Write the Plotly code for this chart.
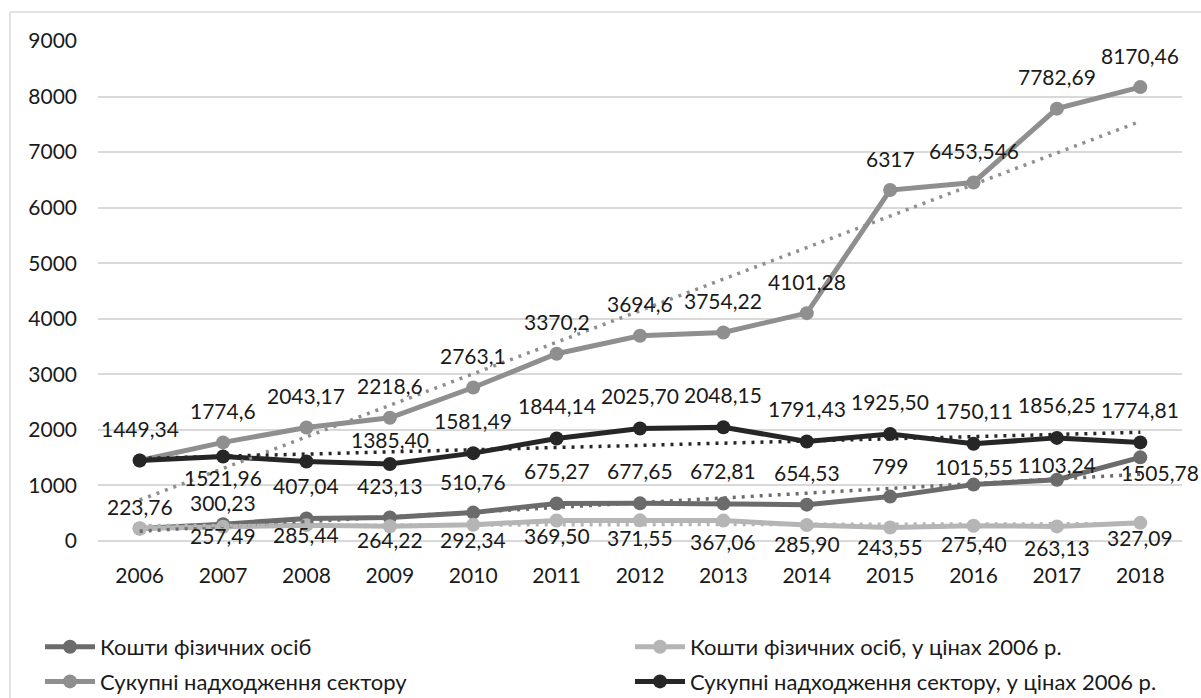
import numpy as np
import plotly.graph_objects as go

# Years on the category axis
years = [2006, 2007, 2008, 2009, 2010, 2011, 2012, 2013, 2014, 2015, 2016, 2017, 2018]

# Кошти фізичних осіб
private_funds = [223.76, 300.23, 407.04, 423.13, 510.76, 675.27, 677.65, 672.81,
                 654.53, 799, 1015.55, 1103.24, 1505.78]
# Кошти фізичних осіб, у цінах 2006 р.
private_funds_2006 = [223.76, 257.49, 285.44, 264.22, 292.34, 369.50, 371.55, 367.06,
                      285.90, 243.55, 275.40, 263.13, 327.09]
# Сукупні надходження сектору
sector_total = [1449.34, 1774.6, 2043.17, 2218.6, 2763.1, 3370.2, 3694.6, 3754.22,
                4101.28, 6317, 6453.546, 7782.69, 8170.46]
# Сукупні надходження сектору, у цінах 2006 р.
sector_total_2006 = [1449.34, 1521.96, 1430, 1385.40, 1581.49, 1844.14, 2025.70, 2048.15,
                     1791.43, 1925.50, 1750.11, 1856.25, 1774.81]

names = [
    "Кошти фізичних осіб",
    "Кошти фізичних осіб, у цінах 2006 р.",
    "Сукупні надходження сектору",
    "Сукупні надходження сектору, у цінах 2006 р.",
]

FONT = "Lato, 'Noto Sans', sans-serif"
TEXT = "#1a1a1a"


def fmt_fixed(v):
    return str(v) if isinstance(v, int) else f"{v:.2f}".replace(".", ",")


def fmt_plain(v):
    return str(v).replace(".", ",")


# label vertical offsets in px (positive = above point); None = no label
series = [
    dict(y=private_funds, color="#6b6b6b", fmt=fmt_fixed, legend="legend",
         off=[22, 22, 33, 32, 31, 33, 33, 33, 32, 31, 18, 15, -15],
         xoff=[0] * 12 + [20]),
    dict(y=private_funds_2006, color="#b5b5b5", fmt=fmt_fixed, legend="legend2",
         off=[None, -9, -9, -13, -15, -15, -17, -21, -18, -19, -18, -21, -15],
         xoff=[0] * 13),
    dict(y=sector_total, color="#8f8f8f", fmt=fmt_plain, legend="legend",
         off=[32] * 13, xoff=[0] * 13),
    dict(y=sector_total_2006, color="#262626", fmt=fmt_fixed, legend="legend2",
         off=[None, -21, None, 25, 33, 33, 33, 33, 33, 33, 33, 33, 33],
         xoff=[0] * 13),
]

fig = go.Figure()

for i, (name, s) in enumerate(zip(names, series)):
    fig.add_trace(go.Scatter(
        x=years, y=s["y"], name=name, mode="lines+markers",
        line=dict(color=s["color"], width=5),
        marker=dict(color=s["color"], size=14, symbol="circle"),
        legend=s["legend"], legendgroup=f"g{i}",
        hoverinfo="skip",
    ))

# linear trend lines
xs = np.array(years, dtype=float)
for s in series:
    k, b = np.polyfit(xs, np.array(s["y"], dtype=float), 1)
    fig.add_trace(go.Scatter(
        x=years, y=k * xs + b, mode="lines", showlegend=False, hoverinfo="skip",
        line=dict(color=s["color"], width=3.5, dash="3px,6px"),
    ))

annotations = []
for s in series:
    for x, v, o, dx in zip(years, s["y"], s["off"], s["xoff"]):
        if o is None:
            continue
        annotations.append(dict(
            x=x, y=v, text=s["fmt"](v), showarrow=False,
            yshift=o, xshift=dx, font=dict(family=FONT, size=21, color=TEXT),
        ))

W, H = 1201, 698
L, R, T, B = 98, 19, 41, 157
pw, ph = W - L - R, H - T - B


def px_x(p):
    return (p - L) / pw


def px_y(p):
    return (H - B - p) / ph


border = dict(color="#d9d9d9", width=1.5)
shapes = [
    dict(type="line", xref="paper", yref="paper", x0=px_x(10), x1=px_x(W + 5),
         y0=px_y(12), y1=px_y(12), line=border),
    dict(type="line", xref="paper", yref="paper", x0=px_x(10), x1=px_x(10),
         y0=px_y(12), y1=px_y(H + 5), line=border),
]

legend_style = dict(
    orientation="v", xanchor="left", y=px_y(626), yanchor="top",
    itemwidth=50, traceorder="grouped", tracegroupgap=3,
    font=dict(family=FONT, size=22, color=TEXT), bgcolor="rgba(0,0,0,0)",
)

fig.update_layout(
    width=W, height=H,
    margin=dict(l=L, r=R, t=T, b=B, autoexpand=False),
    paper_bgcolor="white", plot_bgcolor="white",
    font=dict(family=FONT, size=21, color=TEXT),
    xaxis=dict(
        range=[2005.5, 2018.5], tickmode="array", tickvals=years,
        ticktext=[str(y) for y in years], showgrid=False, zeroline=False,
        showline=False, ticks="", ticklabelstandoff=20,
        tickfont=dict(family=FONT, size=21, color=TEXT),
    ),
    yaxis=dict(
        range=[0, 9000], dtick=1000, showgrid=True, gridcolor="#d9d9d9",
        gridwidth=1.5, zeroline=True, zerolinecolor="#d9d9d9", zerolinewidth=1.5,
        showline=False, ticks="", ticklabelstandoff=20,
        tickfont=dict(family=FONT, size=21, color=TEXT),
    ),
    legend=dict(x=px_x(40), **legend_style),
    legend2=dict(x=px_x(630), **legend_style),
    annotations=annotations,
    shapes=shapes,
    showlegend=True,
)

fig.write_html("out.html")
